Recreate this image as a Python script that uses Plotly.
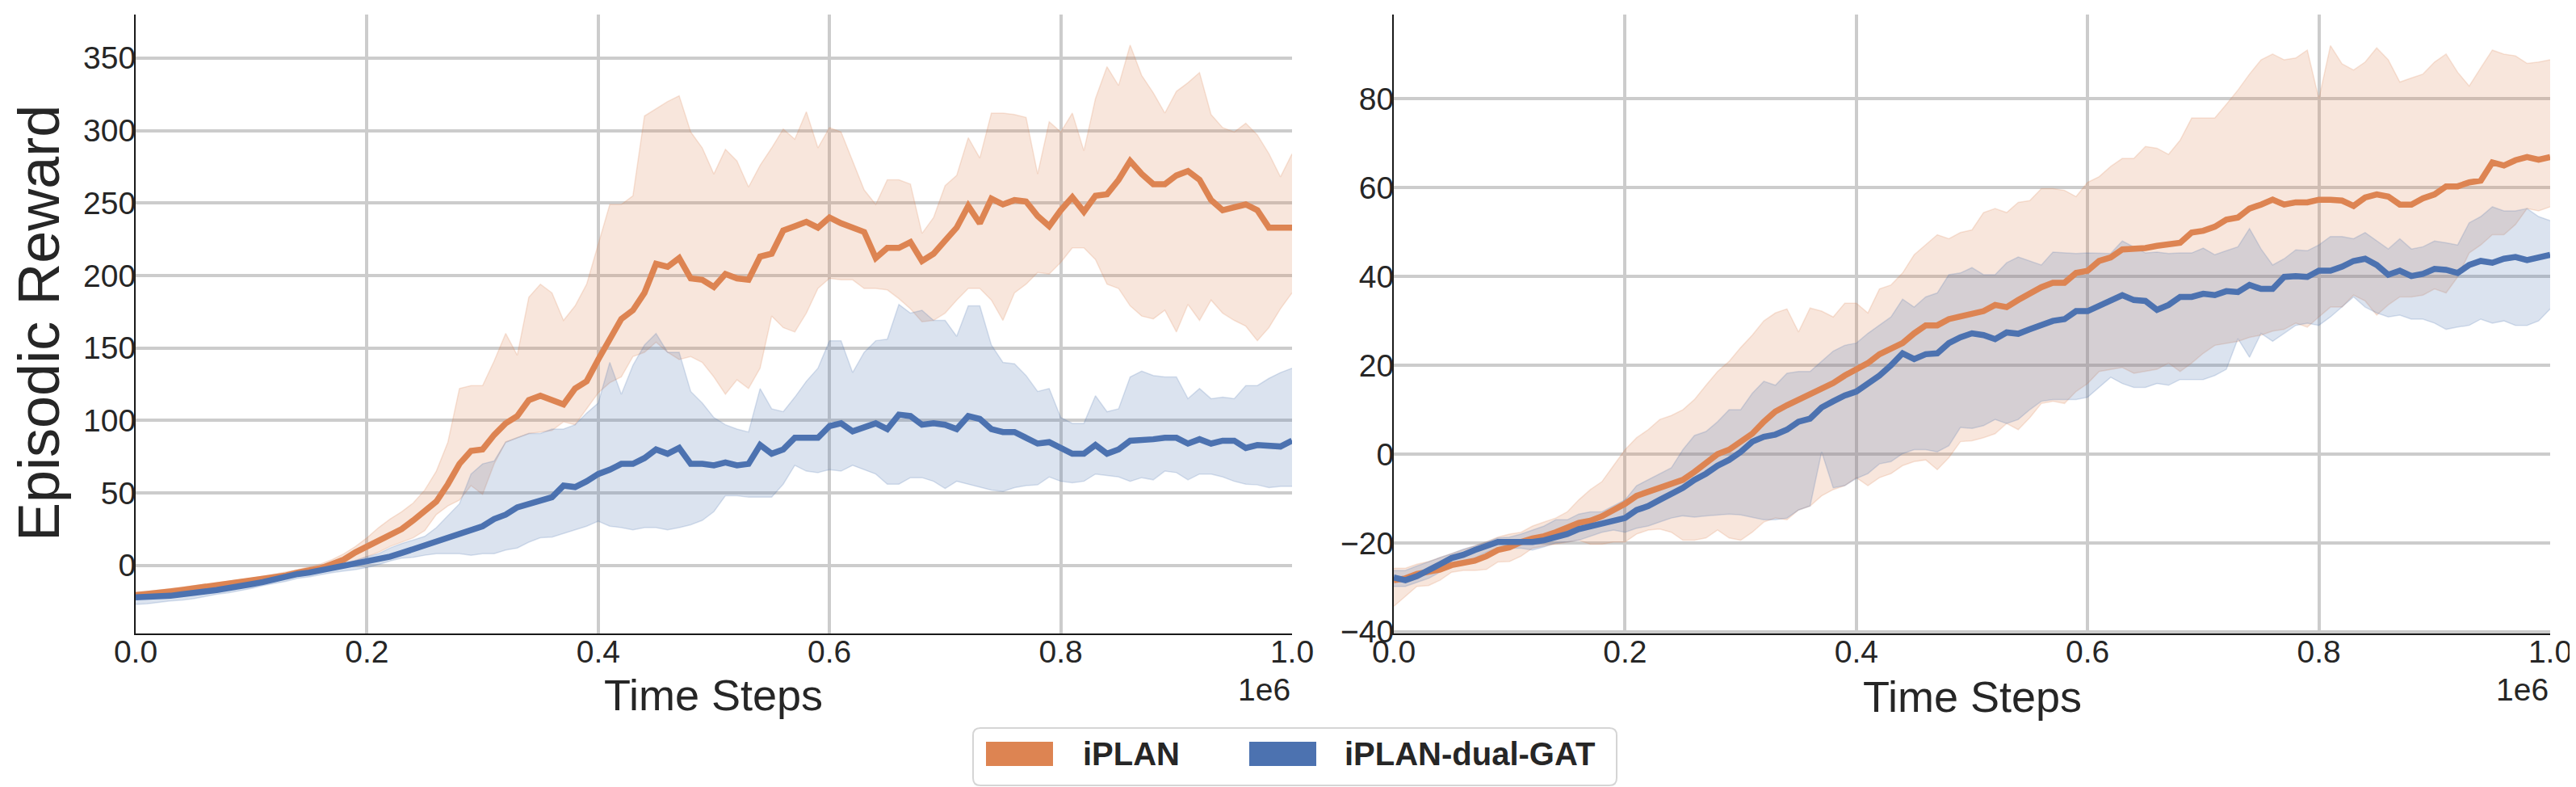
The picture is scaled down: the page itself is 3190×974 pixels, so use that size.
import plotly.graph_objects as go

# time steps (0 .. 1e6, every 10k)
steps = list(range(0, 1000001, 10000))

# ---- left panel ----
left_iplan_mean = [
    -20.5, -20, -19, -18, -17, -16, -15, -14, -13, -12,
    -11, -9.5, -8, -7, -5, -3.5, -2, 1, 4, 9,
    13, 16, 21, 25, 31, 38, 44, 56, 70, 79,
    80, 90, 98, 103, 114, 117, 114, 111, 122, 127,
    142, 156, 170, 176, 188, 208, 206, 212, 198, 197,
    192, 201, 198, 197, 213, 215, 231, 234, 237, 233,
    240, 236, 233, 230, 212, 219, 219, 223, 210, 215,
    224, 233, 248, 236, 253, 249, 252, 251, 241, 234,
    245, 254, 244, 255, 256, 266, 279, 270, 263, 263,
    269, 272, 266, 252, 245, 247, 249, 245, 233, 233,
    233]
left_iplan_upper = [
    -18.5, -18, -17, -16, -15, -14, -13, -12, -11, -10,
    -9, -7.5, -6, -4.5, -3, -1, 1, 4, 8, 13,
    19, 26, 32, 37, 43, 52, 65, 85, 122, 124,
    124, 141, 160, 145, 185, 194, 188, 169, 179, 194,
    222, 249, 249, 255, 310, 315, 320, 324, 299, 288,
    270, 287, 279, 261, 276, 288, 301, 294, 313, 288,
    302, 299, 279, 259, 249, 266, 266, 263, 229, 240,
    262, 269, 295, 281, 312, 312, 311, 309, 270, 306,
    299, 312, 286, 322, 344, 331, 359, 338, 326, 312,
    327, 333, 340, 311, 302, 299, 305, 297, 284, 268,
    284]
left_iplan_lower = [
    -23, -22, -21, -20, -19, -18, -17, -16, -15, -14,
    -13, -11.5, -10, -9, -7.5, -6, -4.5, -2, 0, 3,
    6, 9, 13, 16, 19, 24, 35, 41, 45, 55,
    49, 70, 85, 88, 91, 92, 93, 99, 97, 108,
    119, 126, 130, 144, 147, 154, 147, 142, 144, 140,
    130, 118, 128, 122, 136, 172, 164, 161, 174, 191,
    198, 197, 197, 191, 191, 190, 184, 177, 168, 169,
    174, 183, 191, 191, 183, 169, 188, 194, 202, 201,
    209, 219, 219, 211, 194, 191, 179, 172, 170, 176,
    161, 180, 169, 183, 174, 169, 165, 155, 164, 177,
    188]
left_gat_mean = [
    -22, -22, -21.5, -21, -20, -19.5, -18, -17, -16, -14.5,
    -13, -11.5, -9.5, -8, -6, -5, -3.5, -2, -0.5, 1,
    2.5, 4, 6, 8.5, 11, 14, 16, 19, 22, 24.5,
    27, 32, 35, 40, 42.5, 44.5, 47, 55, 54, 58,
    63, 66, 70, 70, 74, 80, 77, 81, 70, 70,
    69, 71, 69, 70, 83, 77, 80, 88, 87.5, 88,
    96, 98, 92.5, 95, 98, 94, 104, 103, 97, 98,
    97, 94, 103, 101, 94, 92, 92, 88, 84, 85,
    81, 77, 77, 83, 77, 80, 86, 86, 87, 88,
    88, 84, 87, 84, 86, 86, 81, 83, 82, 82,
    86]
left_gat_upper = [
    -19, -19, -18.5, -18, -17, -16.5, -15, -14, -13, -12,
    -11, -9.5, -7.5, -6, -4, -3, -1.5, 0, 1.5, 3.5,
    6, 8, 12, 15, 17.5, 20, 26, 34, 42.5, 63,
    70, 72, 85, 88, 91, 91, 94, 94, 97, 105,
    112, 140, 118, 138, 152, 160, 147, 147, 120, 112,
    102, 97, 94, 92, 122, 108, 106, 116, 127, 136,
    155, 155, 133, 147, 155, 156, 180, 174, 176, 169,
    169, 158, 179, 179, 152, 140, 139, 131, 120, 122,
    102, 98, 98, 117, 106, 108, 130, 134, 131, 130,
    130, 115, 122, 115, 116, 115, 124, 124, 129, 133,
    136]
left_gat_lower = [
    -27, -26.5, -25.5, -24.5, -24, -23, -21.5, -20, -19, -17.5,
    -16, -14, -12.5, -11, -9, -8, -6.5, -5, -4, -3,
    -1.5, 0.5, 3, 5, 5.5, 7, 8, 8, 8, 7,
    8, 8, 10.5, 12, 16, 19, 19.5, 22, 24.5, 27,
    30.5, 27, 26, 24.5, 26, 26, 24.5, 26, 28, 31,
    37, 48, 48, 47, 47, 47, 56, 69, 65, 64,
    66, 65, 69, 66, 63, 56, 56, 60.5, 60.5, 58,
    53, 58, 56, 53.6, 52, 51, 53.6, 55, 55.5, 61,
    58, 57, 58, 63, 62, 61, 58, 60.5, 59, 65,
    64, 59, 63, 63, 61, 58, 56, 55.5, 53.6, 54.4,
    54.4]

# ---- right panel ----
right_iplan_mean = [
    -28.4, -28, -27, -26.6, -26, -25, -24.5, -24, -23, -21.6,
    -21, -19.8, -19, -18.5, -17.6, -16.4, -15.5, -15, -14, -12.6,
    -11.2, -9.4, -8.5, -7.6, -6.7, -5.8, -4, -2.2, 0, 1,
    2.8, 4.6, 7.3, 9.6, 11, 12.3, 13.7, 14.8, 16, 17.7,
    19, 20.5, 22.5, 23.8, 25, 27.2, 29, 29, 30.4, 31,
    31.5, 32.2, 33.6, 33.1, 34.7, 36.1, 37.6, 38.6, 38.6, 40.8,
    41.3, 43.5, 44.3, 46.1, 46.2, 46.4, 46.9, 47.1, 47.6, 49.9,
    50.3, 51.2, 52.8, 53.3, 55.3, 56.2, 57.3, 56.2, 56.7, 56.7,
    57.3, 57.3, 57.1, 55.9, 57.8, 58.5, 58, 56.2, 56.2, 57.6,
    58.5, 60.3, 60.3, 61.2, 61.6, 65.7, 65, 66.2, 66.9, 66.3,
    66.9]
right_iplan_upper = [
    -25.7, -25.7, -24.8, -24.2, -23.3, -22.4, -21.6, -20.7, -19.8, -18.7,
    -18, -17.6, -16.2, -15.3, -14.4, -13, -10.3, -8, -6.2, -2.6,
    1, 3.7, 5.5, 7.8, 8.7, 10, 12.3, 15.5, 18.6, 20.9,
    24, 26.8, 30, 31.8, 32.7, 27.5, 32.9, 32.2, 30.9, 34,
    34, 31.8, 37.2, 38.1, 40.8, 44.9, 47.1, 49.4, 48.5, 49.9,
    50.5, 54.4, 55.3, 54.4, 56.7, 57.1, 59.8, 59.8, 59.4, 58,
    61.2, 62.5, 64.8, 66.6, 66.6, 69.3, 68.9, 67.5, 70.7, 75.7,
    75.7, 75.7, 78.8, 82, 85.6, 88.8, 90.1, 88.8, 89.2, 91,
    80, 92, 87.9, 86.5, 88.3, 91.5, 88.8, 83.8, 84.7, 85.6,
    88.3, 90.1, 86, 82.9, 87, 91, 90.1, 89.7, 88, 88.3,
    88.8]
right_iplan_lower = [
    -34.3, -32, -29.8, -29.6, -28.4, -26.6, -26.2, -26.2, -26, -24.3,
    -24.2, -23, -21.2, -20.7, -20.3, -19.8, -19.4, -20.3, -20.3, -19.8,
    -19.8, -18, -17.1, -16.9, -17.6, -19.4, -19.4, -18.9, -17.1, -18.9,
    -19.4, -17.6, -15.3, -14.4, -14.8, -12.6, -11.7, -9.4, -8, -7.1,
    -5.3, -7.1, -5.3, -4.4, -2.6, -1.7, -1.3, -3.5, -0.8, 2.8,
    3, 3.7, 4.6, 6.9, 5.5, 8.2, 11.4, 11.9, 11.4, 14.1,
    15.9, 18.6, 19.1, 19.5, 18.2, 18.6, 19.1, 20.5, 18.6, 20.5,
    22.7, 24.5, 25, 25.4, 26.3, 26.8, 27.7, 28.1, 29.5, 28.6,
    30.9, 33.1, 33.1, 35.8, 34.5, 31.3, 33.6, 35.4, 35.4, 35.8,
    37.2, 36.3, 39.9, 45.3, 47.1, 49.4, 49.4, 51.7, 55.3, 54.8,
    55.7]
right_gat_mean = [
    -27.8, -28.4, -27.5, -26, -24.8, -23.4, -22.7, -21.6, -20.7, -19.8,
    -19.8, -19.8, -19.8, -19.4, -18.7, -18, -16.9, -16.2, -15.7, -14.8,
    -14.4, -12.6, -11.7, -10.3, -9, -7.6, -5.8, -4.4, -2.6, -1.3,
    0.5, 2.8, 3.9, 4.4, 5.5, 7.3, 8, 10.5, 11.9, 13.2,
    14.1, 15.9, 17.7, 20, 22.7, 21.4, 22.5, 22.7, 25, 26.3,
    27.2, 26.8, 25.9, 27.4, 27.1, 28.1, 28.9, 30, 30.4, 32.2,
    32.2, 33.4, 34.5, 35.8, 34.7, 34.5, 32.5, 33.6, 35.4, 35.4,
    36.1, 35.8, 36.7, 36.5, 38.1, 37.2, 37.2, 39.9, 40.1, 39.9,
    41.3, 41.3, 42.2, 43.5, 44, 42.6, 40.4, 41.3, 40.1, 40.6,
    41.7, 41.5, 40.8, 42.6, 43.5, 43.1, 44, 44.4, 43.7, 44.3,
    44.9]
right_gat_upper = [
    -26.2, -26.2, -25.2, -24.2, -23.3, -22.4, -21.4, -20.7, -19.8, -18.9,
    -18.7, -18, -17.1, -16.2, -14.8, -14.8, -13.5, -13, -13, -11.7,
    -10.3, -7.1, -5.8, -4.4, -3.1, 1, 4.2, 5.1, 7.3, 10,
    10, 13.7, 16.4, 15.5, 18.2, 18.6, 18.6, 20.9, 23.2, 24.5,
    25, 27.2, 29, 30.9, 34.9, 33.1, 35.4, 36.3, 40.4, 40.8,
    42, 40.4, 40.4, 43.1, 44.4, 43.5, 42.6, 45.5, 45.3, 45.2,
    45.3, 45.3, 45.2, 48, 46.7, 45.3, 45.5, 45.2, 45.3, 45.3,
    46.4, 44.9, 45.8, 46.7, 50.8, 46.2, 42.6, 44, 46, 45.8,
    47.1, 49, 49, 48.5, 49.9, 48, 46.2, 48.5, 46.2, 46.7,
    48, 47.6, 47.1, 52.1, 53.5, 55.7, 54.8, 54.8, 55.3, 53.5,
    52.6]
right_gat_lower = [
    -29.8, -29.8, -28.9, -28, -26.6, -25.4, -24.8, -23.4, -22.1, -21.2,
    -21.2, -21.2, -21.6, -20.9, -20, -19.8, -19.4, -18.5, -17.6, -17.1,
    -17.6, -16.7, -16.2, -15.3, -14.4, -13.9, -14.2, -13.9, -13.7, -13.5,
    -13.7, -14.2, -14.8, -14.8, -14.4, -12.6, -11.7, 0.5, -7.6, -7.1,
    -5.5, -4.4, -2.2, -1.7, 0.1, 1, 1, 0.5, 1.9, 6,
    5.8, 6.4, 7.8, 6.9, 7.8, 10, 11.9, 12.3, 12.3, 12.3,
    12.8, 15, 17.3, 15.9, 15, 15, 15.9, 15.5, 16.8, 16.8,
    16.8, 17.7, 19.1, 26, 21.8, 27.2, 25.4, 27.2, 29, 29.5,
    29, 30.9, 33.1, 35.4, 33.1, 31.8, 30.9, 31.3, 30.4, 30.4,
    29.5, 28.1, 28.6, 29, 30.4, 29.5, 30, 29, 29, 30,
    32.7]

x_ticks = [0, 200000, 400000, 600000, 800000, 1000000]
x_ticktext = ["0.0", "0.2", "0.4", "0.6", "0.8", "1.0"]

ORANGE = "#dd8452"
BLUE = "#4c72b0"
ORANGE_FILL = "rgba(221,132,82,0.2)"
BLUE_FILL = "rgba(76,114,176,0.2)"
TEXT = "#262626"
FONT = "Liberation Sans, Arial, sans-serif"

W, H = 3190, 974


def px(x):
    return x / W


def py(y):
    return 1 - y / H


fig = go.Figure()


def add_band(lower, upper, fill, xa, ya):
    fig.add_trace(go.Scatter(x=steps, y=lower, mode="lines",
                             line=dict(color=fill, width=1.5),
                             xaxis=xa, yaxis=ya, showlegend=False,
                             hoverinfo="skip"))
    fig.add_trace(go.Scatter(x=steps, y=upper, mode="lines", fill="tonexty",
                             fillcolor=fill, line=dict(color=fill, width=1.5),
                             xaxis=xa, yaxis=ya, showlegend=False,
                             hoverinfo="skip"))


def add_mean(vals, color, name, xa, ya):
    fig.add_trace(go.Scatter(x=steps, y=vals, mode="lines", name=name,
                             line=dict(color=color, width=7.5),
                             xaxis=xa, yaxis=ya, showlegend=False))


# bands first, lines on top (like matplotlib zorder)
add_band(left_iplan_lower, left_iplan_upper, ORANGE_FILL, "x", "y")
add_band(left_gat_lower, left_gat_upper, BLUE_FILL, "x", "y")
add_band(right_iplan_lower, right_iplan_upper, ORANGE_FILL, "x2", "y2")
add_band(right_gat_lower, right_gat_upper, BLUE_FILL, "x2", "y2")
add_mean(left_iplan_mean, ORANGE, "iPLAN", "x", "y")
add_mean(left_gat_mean, BLUE, "iPLAN-dual-GAT", "x", "y")
add_mean(right_iplan_mean, ORANGE, "iPLAN", "x2", "y2")
add_mean(right_gat_mean, BLUE, "iPLAN-dual-GAT", "x2", "y2")

tick_font = dict(family=FONT, size=39, color=TEXT)
xcommon = dict(range=[0, 1000000], tickvals=x_ticks, ticktext=x_ticktext,
               showgrid=True, gridcolor="#cccccc", gridwidth=4,
               zeroline=False, showline=True, linecolor="#1a1a1a",
               linewidth=2, ticks="", tickfont=tick_font, automargin=False,
               ticklabelstandoff=-13)
ycommon = dict(showgrid=True, gridcolor="#cccccc", gridwidth=4,
               zeroline=False, showline=True, linecolor="#1a1a1a",
               linewidth=2, ticks="", tickfont=tick_font, automargin=False,
               ticklabelstandoff=-10)

ydom = [py(776), py(10)]

fig.update_layout(
    width=W, height=H,
    margin=dict(l=0, r=0, t=0, b=0),
    paper_bgcolor="white", plot_bgcolor="white",
    font=dict(family=FONT, color=TEXT),
    xaxis=dict(xcommon, domain=[px(160), px(1592)], anchor="y"),
    yaxis=dict(ycommon, domain=ydom, range=[-47, 380], dtick=50,
               anchor="x"),
    xaxis2=dict(xcommon, domain=[px(1718), px(3150)], anchor="y2"),
    yaxis2=dict(ycommon, domain=ydom, range=[-40.4, 99], dtick=20,
                anchor="x2"),
    showlegend=False,
)

annotations = [
    dict(text="Episodic Reward", x=px(40), y=py(392), textangle=-90,
         font=dict(size=72)),
    dict(text="Time Steps", x=px(876), y=py(852), font=dict(size=54)),
    dict(text="Time Steps", x=px(2434), y=py(854), font=dict(size=54)),
    dict(text="1e6", x=px(1592), y=py(845), xanchor="right",
         font=dict(size=39)),
    dict(text="1e6", x=px(3150), y=py(845), xanchor="right",
         font=dict(size=39)),
    dict(text="<b>iPLAN</b>", x=px(1331), y=py(925), xanchor="left",
         font=dict(size=40)),
    dict(text="<b>iPLAN-dual-GAT</b>", x=px(1655), y=py(925),
         xanchor="left", font=dict(size=40)),
]
for a in annotations:
    a.setdefault("xanchor", "center")
    a.setdefault("yanchor", "middle")
    a.update(xref="paper", yref="paper", showarrow=False)
fig.update_layout(annotations=annotations)


def rounded_rect(x0, y0, x1, y1, r):
    # pixel corners -> paper path with rounded corners
    rx, ry = r / W, r / H
    X0, X1, Y0, Y1 = px(x0), px(x1), py(y1), py(y0)
    return (f"M {X0 + rx},{Y0} L {X1 - rx},{Y0} Q {X1},{Y0} {X1},{Y0 + ry} "
            f"L {X1},{Y1 - ry} Q {X1},{Y1} {X1 - rx},{Y1} "
            f"L {X0 + rx},{Y1} Q {X0},{Y1} {X0},{Y1 - ry} "
            f"L {X0},{Y0 + ry} Q {X0},{Y0} {X0 + rx},{Y0} Z")


shapes = [
    dict(type="path", path=rounded_rect(1197, 893, 1994, 964, 9),
         xref="paper", yref="paper", line=dict(color="#d5d5d5", width=2),
         fillcolor="white"),
    dict(type="rect", x0=px(1213), x1=px(1296), y0=py(940), y1=py(910),
         xref="paper", yref="paper", line=dict(width=0), fillcolor=ORANGE),
    dict(type="rect", x0=px(1539), x1=px(1622), y0=py(940), y1=py(910),
         xref="paper", yref="paper", line=dict(width=0), fillcolor=BLUE),
]
fig.update_layout(shapes=shapes)

fig.write_html("out.html")
